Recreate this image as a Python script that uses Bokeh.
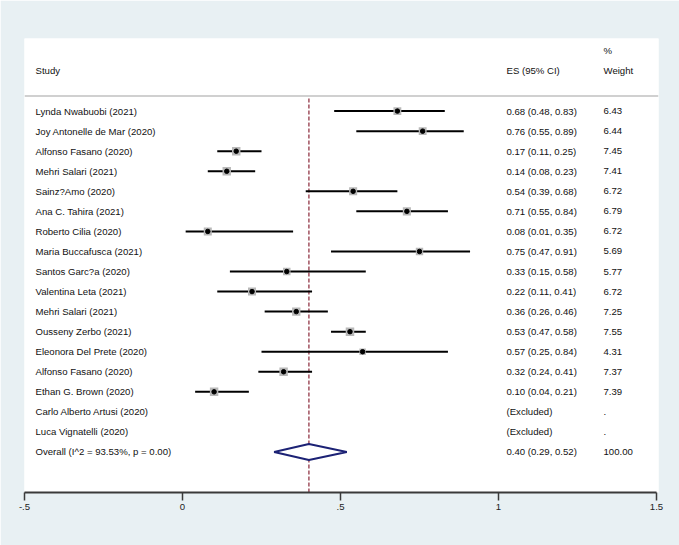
from bokeh.plotting import figure
from bokeh.models import Range1d, FixedTicker, Label, ColumnDataSource
from bokeh.embed import file_html
from bokeh.resources import INLINE
from bokeh.core.properties import value

# ---------------- data ----------------
studies = [
    "Lynda Nwabuobi (2021)", "Joy Antonelle de Mar (2020)", "Alfonso Fasano (2020)",
    "Mehri Salari (2021)", "Sainz?Amo (2020)", "Ana C. Tahira (2021)",
    "Roberto Cilia (2020)", "Maria Buccafusca (2021)", "Santos Garc?a (2020)",
    "Valentina Leta (2021)", "Mehri Salari (2021)", "Ousseny Zerbo (2021)",
    "Eleonora Del Prete (2020)", "Alfonso Fasano (2020)", "Ethan G. Brown (2020)",
    "Carlo Alberto Artusi (2020)", "Luca Vignatelli (2020)",
]
es = [0.68, 0.76, 0.17, 0.14, 0.54, 0.71, 0.08, 0.75, 0.33, 0.22, 0.36, 0.53, 0.57, 0.32, 0.10, None, None]
lo = [0.48, 0.55, 0.11, 0.08, 0.39, 0.55, 0.01, 0.47, 0.15, 0.11, 0.26, 0.47, 0.25, 0.24, 0.04, None, None]
hi = [0.83, 0.89, 0.25, 0.23, 0.68, 0.84, 0.35, 0.91, 0.58, 0.41, 0.46, 0.58, 0.84, 0.41, 0.21, None, None]
weight = [6.43, 6.44, 7.45, 7.41, 6.72, 6.79, 6.72, 5.69, 5.77, 6.72, 7.25, 7.55, 4.31, 7.37, 7.39, None, None]

overall_label = "Overall  (I^2 = 93.53%, p = 0.00)"
overall_es, overall_lo, overall_hi = 0.40, 0.29, 0.52
overall_weight = 100.00

x_ticks = [-0.5, 0, 0.5, 1, 1.5]
x_tick_labels = ["-.5", "0", ".5", "1", "1.5"]

# ---------------- layout constants ----------------
BG = "#e8f0f3"
FONT = "Liberation Sans"
FS = "9.6px"
PX_PER_UNIT = 316.0
FRAME_W = 634
X0 = -0.5
X1 = X0 + FRAME_W / PX_PER_UNIT

n = len(studies)
rows = list(range(1, n + 1))
overall_row = n + 1

p = figure(width=679, height=545, output_backend="svg", toolbar_location=None,
           x_range=Range1d(X0, X1), y_range=Range1d(20.02, -2.62),
           y_axis_location=None, min_border_left=24, min_border_right=21,
           min_border_top=38, min_border_bottom=53)
p.background_fill_color = "white"
p.border_fill_color = BG
p.outline_line_color = None
p.grid.visible = False

# x axis
ax = p.xaxis[0]
ax.ticker = FixedTicker(ticks=x_ticks)
ax.major_label_overrides = {t: l for t, l in zip(x_ticks, x_tick_labels)}
ax.bounds = (x_ticks[0], x_ticks[-1])
ax.axis_line_color = "#3a3a3a"
ax.axis_line_width = 2
ax.major_tick_line_color = "#3a3a3a"
ax.major_tick_line_width = 1.5
ax.major_tick_out = 8
ax.major_tick_in = 0
ax.minor_tick_line_color = None
ax.major_label_text_font = FONT
ax.major_label_text_font_size = FS
ax.major_label_text_color = "#222222"
ax.major_label_standoff = 3

# header separator
p.segment(x0=[X0], x1=[X1], y0=[0.25], y1=[0.25], line_color="#d0d0d0", line_width=2)

# overall dashed line
p.segment(x0=[overall_es], x1=[overall_es], y0=[0.37], y1=[20.02],
          line_color="#a0505e", line_width=1.5, line_dash="4 2")

# study marks
idx = [i for i in range(n) if es[i] is not None]
src = ColumnDataSource(dict(
    y=[rows[i] for i in idx],
    es=[es[i] for i in idx],
    lo=[lo[i] for i in idx],
    hi=[hi[i] for i in idx],
    size=[3.1 * (weight[i] ** 0.5) for i in idx],
))
p.segment(x0="lo", x1="hi", y0="y", y1="y", source=src, line_color="black", line_width=2)
p.scatter(x="es", y="y", size="size", marker="square", source=src,
          fill_color="#b8b8b8", line_color=None)
p.scatter(x="es", y="y", size=4.5, marker="circle", source=src,
          fill_color="black", line_color="black")

# overall diamond
p.patch(x=[overall_lo, overall_es, overall_hi, overall_es],
        y=[overall_row, overall_row - 0.4, overall_row, overall_row + 0.4],
        fill_color="white", line_color="#1c2275", line_width=2)

# text columns
TX_STUDY = X0 + 11 / PX_PER_UNIT
TX_ES = X0 + 482 / PX_PER_UNIT
TX_W = X0 + 579 / PX_PER_UNIT

labels = studies + [overall_label]
es_txt = []
w_txt = []
for i in range(n):
    if es[i] is None:
        es_txt.append("(Excluded)")
        w_txt.append(".")
    else:
        es_txt.append(f"{es[i]:.2f} ({lo[i]:.2f}, {hi[i]:.2f})")
        w_txt.append(f"{weight[i]:.2f}")
es_txt.append(f"{overall_es:.2f} ({overall_lo:.2f}, {overall_hi:.2f})")
w_txt.append(f"{overall_weight:.2f}")
all_rows = rows + [overall_row]

tsrc = ColumnDataSource(dict(y=all_rows, lab=labels, es=es_txt, w=w_txt))
common = dict(text_font=value(FONT), text_font_size=FS, text_color="#111111",
              text_baseline="middle", text_align="left")
p.text(x=TX_STUDY, y="y", text="lab", source=tsrc, **common)
p.text(x=TX_ES, y="y", text="es", source=tsrc, **common)
p.text(x=TX_W, y="y", text="w", source=tsrc, **common)

# header
p.text(x=[TX_STUDY, TX_ES, TX_W], y=[-1, -1, -1], text=["Study", "ES (95% CI)", "Weight"], **common)
p.text(x=[TX_W], y=[-2], text=["%"], **common)

# stray dot at far left
p.add_layout(Label(x=X0 - 12 / PX_PER_UNIT, y=-2.3, text=".", text_font=FONT,
                   text_font_size=FS, text_color="#111111", text_baseline="middle"))

html = file_html(p, INLINE)
open("out.html", "w").write(html)
